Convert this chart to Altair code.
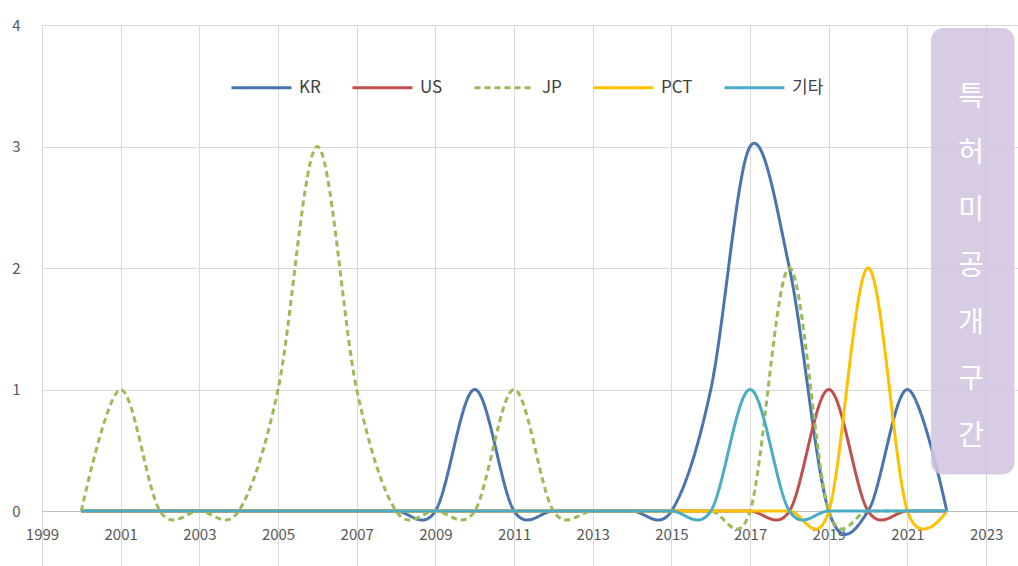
import altair as alt
import pandas as pd

years = list(range(2000, 2023))
kr  = [0,0,0,0,0,0,0,0,0,0,1,0,0,0,0,0,1,3,2,0,0,1,0]
us  = [0,0,0,0,0,0,0,0,0,0,0,0,0,0,0,0,0,0,0,1,0,0,0]
jp  = [0,1,0,0,0,1,3,1,0,0,0,1,0,0,0,0,0,0,2,0,0,0,0]
pct = [0,0,0,0,0,0,0,0,0,0,0,0,0,0,0,0,0,0,0,0,2,0,0]
etc = [0,0,0,0,0,0,0,0,0,0,0,0,0,0,0,0,0,1,0,0,0,0,0]

series_names = ["KR", "US", "JP", "PCT", "기타"]
series_values = [kr, us, jp, pct, etc]
series_colors = ["#4A74AE", "#C0504D", "#9BBB59", "#FFC000", "#4BACC6"]
series_dash = [[1, 0], [1, 0], [6, 4], [1, 0], [1, 0]]

x_ticks = list(range(1999, 2024, 2))
y_ticks = [0, 1, 2, 3, 4]
box_label = "특\n허\n미\n공\n개\n구\n간"

rows = []
for name, vals in zip(series_names, series_values):
    for i, (yr, v) in enumerate(zip(years, vals)):
        rows.append({"series": name, "year": yr, "value": v, "idx": i})
df = pd.DataFrame(rows)

FONT = "Noto Sans CJK KR"
xscale = alt.Scale(domain=[1999, 2023.81], nice=False, zero=False)
yscale = alt.Scale(domain=[0, 4], nice=False)

legend_kw = dict(title=None, orient="none", direction="horizontal",
                 legendX=188, legendY=31, symbolType="stroke",
                 symbolSize=3600, symbolStrokeWidth=3,
                 labelFontSize=17, labelColor="#404040",
                 labelFont=FONT, columnPadding=25, labelOffset=6)

lines = alt.Chart(df).mark_line(
    interpolate="cardinal", tension=0, strokeWidth=3
).encode(
    x=alt.X("year:Q", scale=xscale,
            axis=alt.Axis(values=x_ticks, format="d", title=None, grid=True,
                          gridColor="#d9d9d9", tickColor="#d9d9d9", tickSize=55,
                          labelPadding=-39, labelFontSize=15, labelColor="#595959",
                          labelFont=FONT, domainColor="#bfbfbf", labelFlush=False)),
    y=alt.Y("value:Q", scale=yscale,
            axis=alt.Axis(values=y_ticks, format="d", title=None, grid=True,
                          gridColor="#d9d9d9", ticks=False, domain=False,
                          labelPadding=22, labelFontSize=15,
                          labelColor="#595959", labelFont=FONT)),
    color=alt.Color("series:N", sort=series_names,
                    scale=alt.Scale(domain=series_names, range=series_colors),
                    legend=alt.Legend(**legend_kw)),
    strokeDash=alt.StrokeDash("series:N", sort=series_names,
                              scale=alt.Scale(domain=series_names, range=series_dash),
                              legend=alt.Legend(**legend_kw)),
    order=alt.Order("idx:Q"),
)

box_df = pd.DataFrame({"x1": [2021.6], "x2": [2023.72], "y1": [0.3], "y2": [3.975],
                       "tx": [2022.62], "ty": [3.40], "label": [box_label]})

box = alt.Chart(box_df).mark_rect(
    cornerRadius=12, fill="#d3c5e0", opacity=0.88
).encode(
    x=alt.X("x1:Q", scale=xscale), x2="x2:Q",
    y=alt.Y("y1:Q", scale=yscale), y2="y2:Q",
)

box_text = alt.Chart(box_df).mark_text(
    lineBreak="\n", lineHeight=56.5, fontSize=28, color="white",
    font=FONT, align="center", baseline="middle"
).encode(
    x=alt.X("tx:Q", scale=xscale),
    y=alt.Y("ty:Q", scale=yscale),
    text="label:N",
)

chart = alt.layer(lines, box, box_text).properties(
    width=976, height=486,
    autosize=alt.AutoSizeParams(type="none"),
    padding={"left": 42, "top": 25, "right": 0, "bottom": 55},
).configure_view(stroke=None).configure(background="white")

chart.save("out.html", embed_options={"renderer": "svg", "actions": False})
